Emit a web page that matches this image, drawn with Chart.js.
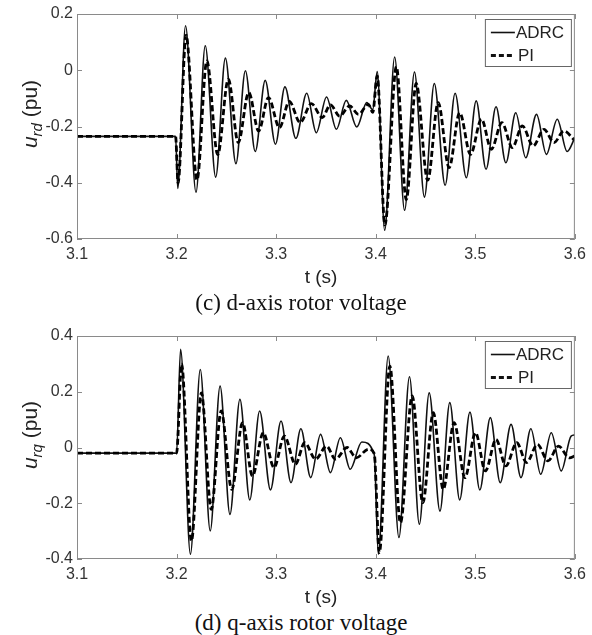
<!DOCTYPE html>
<html>
<head>
<meta charset="utf-8">
<script src="https://cdn.jsdelivr.net/npm/chart.js@4.4.0/dist/chart.umd.min.js"></script>
<style>
  body { margin: 0; background: #fff; width: 592px; height: 635px; position: relative; overflow: hidden; }
  .box { position: absolute; left: 0; width: 592px; height: 275px; }
  .ylab { position: absolute; font-family: "Liberation Sans", Arial, sans-serif; font-size: 21px; color: #222;
          transform: translate(-50%, -50%) rotate(-90deg); white-space: nowrap; }
  .ylab i { font-style: italic; }
  .ylab .sub { font-size: 15px; position: relative; top: 5px; font-style: italic; }
  .xlab { position: absolute; font-family: "Liberation Sans", Arial, sans-serif; font-size: 19px; color: #222;
          transform: translate(-50%, -50%); white-space: nowrap; }
  .cap { position: absolute; font-family: "Liberation Serif", "Times New Roman", serif; font-size: 23px; color: #111;
         transform: translate(-50%, -50%); white-space: nowrap; }
</style>
</head>
<body>
<div class="box" style="top:0"><canvas id="chartD"></canvas></div>
<div class="box" style="top:322px"><canvas id="chartQ"></canvas></div>

<div class="ylab" style="left:30px; top:114px"><i>u</i><span class="sub">rd</span> (pu)</div>
<div class="ylab" style="left:30px; top:435px"><i>u</i><span class="sub">rq</span> (pu)</div>
<div class="xlab" style="left:321px; top:277px">t (s)</div>
<div class="xlab" style="left:321px; top:597px">t (s)</div>
<div class="cap" style="left:301px; top:303px">(c) d-axis rotor voltage</div>
<div class="cap" style="left:301px; top:623px">(d) q-axis rotor voltage</div>

<script>
const dAdrcT = [3.1, 3.199, 3.2012, 3.209, 3.2195, 3.2288, 3.2393, 3.249, 3.2596, 3.2691, 3.279, 3.289, 3.2993, 3.3088, 3.3198,
  3.3307, 3.3403, 3.3506, 3.3605, 3.3704, 3.381, 3.391, 3.397, 3.4015, 3.409, 3.419, 3.429, 3.4389, 3.4489, 3.4588, 3.4697,
  3.4797, 3.491, 3.5009, 3.5108, 3.5208, 3.5307, 3.5406, 3.5506, 3.5615, 3.5714, 3.5823, 3.5922, 3.6];
const dAdrcV = [-0.235, -0.235, -0.42, 0.158, -0.434, 0.087, -0.38, 0.043, -0.332, -0.002, -0.289, -0.036, -0.263, -0.059, -0.242,
  -0.082, -0.222, -0.095, -0.21, -0.107, -0.202, -0.115, -0.14, -0.005, -0.569, 0.047, -0.498, -0.006, -0.451, -0.047, -0.409,
  -0.082, -0.382, -0.109, -0.352, -0.13, -0.329, -0.151, -0.311, -0.157, -0.299, -0.174, -0.289, -0.24];
const dPiT = [3.1, 3.199, 3.2015, 3.2095, 3.2205, 3.2304, 3.2413, 3.252, 3.2619, 3.2725, 3.2824, 3.2923, 3.3033, 3.3132, 3.3241,
  3.3354, 3.3463, 3.3545, 3.3638, 3.3738, 3.3827, 3.3926, 3.397, 3.4015, 3.4092, 3.4207, 3.4307, 3.4406, 3.4522, 3.4627, 3.4737,
  3.4843, 3.4952, 3.5062, 3.5161, 3.5267, 3.5372, 3.5472, 3.5581, 3.569, 3.579, 3.5889, 3.6];
const dPiV = [-0.235, -0.235, -0.40, 0.125, -0.39, 0.033, -0.30, -0.032, -0.257, -0.079, -0.216, -0.097, -0.204, -0.111, -0.186,
  -0.119, -0.168, -0.123, -0.163, -0.127, -0.157, -0.121, -0.15, -0.02, -0.55, 0.012, -0.46, -0.047, -0.391, -0.115, -0.346,
  -0.151, -0.299, -0.174, -0.281, -0.186, -0.275, -0.198, -0.269, -0.21, -0.257, -0.216, -0.25];

// q-axis rotor voltage
const qAdrcT = [3.1, 3.2, 3.204, 3.2139, 3.2238, 3.2338, 3.2437, 3.2536, 3.2636, 3.2735, 3.2834, 3.2943, 3.3049, 3.3149, 3.3248,
  3.3347, 3.3446, 3.3545, 3.3645, 3.3744, 3.386, 3.3985, 3.4026, 3.4125, 3.4233, 3.4339, 3.4438, 3.4537, 3.4645, 3.4744, 3.4843,
  3.4946, 3.5045, 3.5151, 3.525, 3.5359, 3.5459, 3.5558, 3.5657, 3.5763, 3.5863, 3.5962, 3.6];
const qAdrcV = [-0.02, -0.02, 0.352, -0.383, 0.28, -0.299, 0.22, -0.24, 0.173, -0.188, 0.131, -0.152, 0.095, -0.126, 0.067,
  -0.108, 0.047, -0.09, 0.035, -0.078, 0.02, -0.025, -0.383, 0.328, -0.323, 0.254, -0.275, 0.196, -0.228, 0.161, -0.188,
  0.127, -0.152, 0.107, -0.126, 0.083, -0.108, 0.067, -0.096, 0.053, -0.084, 0.041, 0.045];
const qPiT = [3.1, 3.2, 3.205, 3.2149, 3.2249, 3.2348, 3.2448, 3.2554, 3.2663, 3.2762, 3.2871, 3.2978, 3.3083, 3.3193, 3.3287,
  3.3396, 3.3506, 3.3595, 3.3712, 3.3804, 3.3927, 3.3985, 3.4036, 3.4142, 3.4248, 3.4366, 3.4473, 3.4578, 3.4678, 3.4787, 3.4896,
  3.5002, 3.5101, 3.5208, 3.5307, 3.5416, 3.5515, 3.5624, 3.573, 3.5836, 3.5945, 3.6];
const qPiV = [-0.02, -0.02, 0.30, -0.335, 0.196, -0.222, 0.131, -0.15, 0.089, -0.102, 0.053, -0.072, 0.041, -0.06, 0.017,
  -0.042, 0.005, -0.042, 0.0, -0.037, -0.006, -0.022, -0.377, 0.292, -0.27, 0.185, -0.198, 0.125, -0.15, 0.089, -0.108,
  0.053, -0.084, 0.029, -0.066, 0.017, -0.054, 0.011, -0.048, 0.005, -0.037, -0.03];

const xTicks = [3.1, 3.2, 3.3, 3.4, 3.5, 3.6];
const seriesNames = ['ADRC', 'PI'];

const pts = (t, v) => t.map((x, i) => ({ x: x, y: v[i] }));
const tickFont = { family: '"Liberation Sans", Arial, sans-serif', size: 16 };

// box frame with inward ticks on all four sides (matlab look)
const framePlugin = {
  id: 'frame',
  afterDatasetsDraw(chart) {
    const { ctx, chartArea: a, scales } = chart;
    ctx.save();
    ctx.strokeStyle = '#8a8a8a';
    ctx.lineWidth = 1;
    ctx.strokeRect(a.left + 0.5, a.top + 0.5, a.right - a.left - 1, a.bottom - a.top - 1);
    ctx.beginPath();
    scales.x.ticks.forEach(t => {
      const px = Math.round(scales.x.getPixelForValue(t.value)) + 0.5;
      ctx.moveTo(px, a.bottom); ctx.lineTo(px, a.bottom - 5);
      ctx.moveTo(px, a.top); ctx.lineTo(px, a.top + 5);
    });
    scales.y.ticks.forEach(t => {
      const py = Math.round(scales.y.getPixelForValue(t.value)) + 0.5;
      ctx.moveTo(a.left, py); ctx.lineTo(a.left + 5, py);
      ctx.moveTo(a.right, py); ctx.lineTo(a.right - 5, py);
    });
    ctx.stroke();
    ctx.restore();
  }
};

const legendPlugin = {
  id: 'boxLegend',
  afterDatasetsDraw(chart) {
    const { ctx, chartArea: a } = chart;
    const x0 = a.right - 90, y0 = a.top + 5, w = 86, h = 47;
    ctx.save();
    ctx.fillStyle = '#fff';
    ctx.fillRect(x0, y0, w, h);
    ctx.strokeStyle = '#666';
    ctx.lineWidth = 1;
    ctx.strokeRect(x0 + 0.5, y0 + 0.5, w, h);
    ctx.strokeStyle = '#111';
    ctx.lineWidth = 1.6;
    ctx.beginPath(); ctx.moveTo(x0 + 6, y0 + 13.5); ctx.lineTo(x0 + 30, y0 + 13.5); ctx.stroke();
    ctx.lineWidth = 2.8;
    ctx.setLineDash([5, 3]);
    ctx.beginPath(); ctx.moveTo(x0 + 6, y0 + 36.5); ctx.lineTo(x0 + 30, y0 + 36.5); ctx.stroke();
    ctx.setLineDash([]);
    ctx.fillStyle = '#222';
    ctx.font = '17px "Liberation Sans", Arial, sans-serif';
    ctx.textBaseline = 'middle';
    ctx.fillText(seriesNames[0], x0 + 31, y0 + 14);
    ctx.fillText(seriesNames[1], x0 + 33, y0 + 37);
    ctx.restore();
  }
};

function makeChart(id, adrc, pi, yMin, yMax, xHeight) {
  return new Chart(document.getElementById(id).getContext('2d'), {
    type: 'line',
    data: {
      datasets: [{
        label: seriesNames[1],
        data: pi,
        borderColor: '#000',
        borderWidth: 2.8,
        borderDash: [6, 3],
        pointRadius: 0,
        cubicInterpolationMode: 'monotone'
      }, {
        label: seriesNames[0],
        data: adrc,
        borderColor: '#111',
        borderWidth: 1.6,
        pointRadius: 0,
        cubicInterpolationMode: 'monotone'
      }]
    },
    options: {
      responsive: true,
      maintainAspectRatio: false,
      animation: false,
      layout: { padding: { top: 14, right: 12, left: 0, bottom: 0 } },
      plugins: { legend: { display: false }, tooltip: { enabled: false } },
      scales: {
        x: {
          type: 'linear', min: 3.1, max: 3.6,
          afterBuildTicks: s => { s.ticks = xTicks.map(v => ({ value: v })); },
          afterFit: s => { s.height = xHeight; },
          grid: { display: false, drawTicks: false },
          border: { display: false },
          ticks: { font: tickFont, color: '#333', padding: 6, maxRotation: 0,
                   callback: v => v.toFixed(1) }
        },
        y: {
          min: yMin, max: yMax,
          afterFit: s => { s.width = 77; },
          grid: { display: false, drawTicks: false },
          border: { display: false },
          ticks: { font: tickFont, color: '#333', padding: 4, stepSize: 0.2,
                   callback: v => Math.abs(v) < 1e-9 ? '0' : v.toFixed(1) }
        }
      }
    },
    plugins: [framePlugin, legendPlugin]
  });
}

makeChart('chartD', pts(dAdrcT, dAdrcV), pts(dPiT, dPiV), -0.6, 0.2, 36);
makeChart('chartQ', pts(qAdrcT, qAdrcV), pts(qPiT, qPiV), -0.4, 0.4, 38);
</script>
</body>
</html>
